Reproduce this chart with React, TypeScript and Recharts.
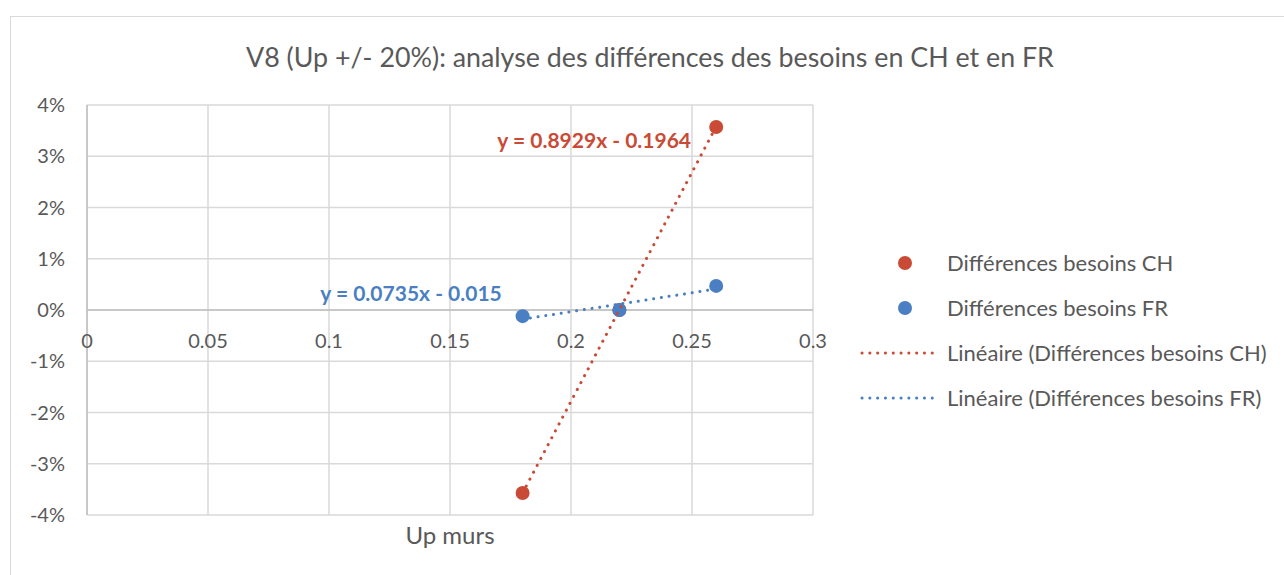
import React from "react";
import {
  ScatterChart,
  Scatter,
  XAxis,
  YAxis,
  CartesianGrid,
  ReferenceLine,
  ReferenceDot,
  Label,
} from "recharts";

const chartTitle = "V8 (Up +/- 20%): analyse des différences des besoins en CH et en FR";
const xAxisTitle = "Up murs";

const upValues = [0.18, 0.22, 0.26];
const chDiff = [-0.0357, 0.0, 0.0357];
const frDiff = [-0.0012, 0.0, 0.0047];

const trendX = [0.18, 0.26];
const chTrend = [-0.0357, 0.0358];
const frTrend = [-0.0018, 0.0041];

const xTicks = [0, 0.05, 0.1, 0.15, 0.2, 0.25, 0.3];
const xTickLabels = ["0", "0.05", "0.1", "0.15", "0.2", "0.25", "0.3"];
const yTicks = [-0.04, -0.03, -0.02, -0.01, 0, 0.01, 0.02, 0.03, 0.04];

const chEquation = "y = 0.8929x - 0.1964";
const frEquation = "y = 0.0735x - 0.015";
const chEqPos = { x: 0.2496, y: 0.033 };
const frEqPos = { x: 0.1339, y: 0.0033 };

const legendNames = [
  "Différences besoins CH",
  "Différences besoins FR",
  "Linéaire (Différences besoins CH)",
  "Linéaire (Différences besoins FR)",
];

const RED = "#C94B36";
const BLUE = "#4A7FC3";
const TEXT = "#595959";
const GRID = "#D9D9D9";
const FONT = "Lato, 'Open Sans', sans-serif";
const DOTTED = "0.1 7.7";

const chData = upValues.map((x, i) => ({ x, y: chDiff[i] }));
const frData = upValues.map((x, i) => ({ x, y: frDiff[i] }));
const chTrendData = trendX.map((x, i) => ({ x, y: chTrend[i] }));
const frTrendData = trendX.map((x, i) => ({ x, y: frTrend[i] }));

const XTick = (props: any) => {
  const { x, y, payload } = props;
  const idx = xTicks.indexOf(payload.value);
  return (
    <text
      x={x}
      y={y - 183}
      textAnchor="middle"
      dominantBaseline="central"
      fill={TEXT}
      fontSize={20}
      fontFamily={FONT}
    >
      {idx >= 0 ? xTickLabels[idx] : String(payload.value)}
    </text>
  );
};

const Dot = (color: string) => (props: any) => {
  const { cx, cy } = props;
  return <circle cx={cx} cy={cy} r={7} fill={color} />;
};

const NoShape = () => null;

const LegendBlock = () => {
  const colors = [RED, BLUE, RED, BLUE];
  return (
    <div
      style={{
        position: "absolute",
        left: 858,
        top: 240,
        width: 426,
        fontFamily: FONT,
      }}
    >
      {legendNames.map((name, i) => (
        <div
          key={name}
          style={{ height: 45, display: "flex", alignItems: "center" }}
        >
          <svg width={89} height={20} style={{ display: "block", flex: "none" }}>
            {i < 2 ? (
              <circle cx={47} cy={10} r={7} fill={colors[i]} />
            ) : (
              <line
                x1={4}
                y1={10}
                x2={80}
                y2={10}
                stroke={colors[i]}
                strokeWidth={3}
                strokeDasharray={DOTTED}
                strokeLinecap="round"
              />
            )}
          </svg>
          <span style={{ fontSize: 22, color: TEXT, whiteSpace: "nowrap" }}>
            {name}
          </span>
        </div>
      ))}
    </div>
  );
};

export default function App() {
  return (
    <div
      style={{
        position: "fixed",
        left: 0,
        top: 0,
        width: 1284,
        height: 575,
        overflow: "hidden",
        background: "#fff",
      }}
    >
      <div
        style={{
          position: "absolute",
          left: 10,
          top: 16,
          width: 1300,
          height: 600,
          border: `1px solid ${GRID}`,
        }}
      />
      <div
        style={{
          position: "absolute",
          left: 0,
          top: 57,
          width: 1300,
          textAlign: "center",
          fontFamily: FONT,
          fontSize: 26.8,
          color: TEXT,
          transform: "translateY(-50%)",
        }}
      >
        {chartTitle}
      </div>
      <div style={{ position: "absolute", left: 0, top: 0 }}>
        <ScatterChart
          width={1284}
          height={575}
          margin={{ top: 105, right: 471, bottom: 0, left: 0 }}
        >
          <CartesianGrid stroke={GRID} strokeWidth={1.5} />
          <XAxis
            type="number"
            dataKey="x"
            domain={[0, 0.3]}
            ticks={xTicks}
            axisLine={false}
            tickLine={false}
            tick={<XTick />}
            height={60}
            interval={0}
          >
            <Label
              value={xAxisTitle}
              position="insideTop"
              offset={12}
              fill={TEXT}
              fontSize={24}
              fontFamily={FONT}
            />
          </XAxis>
          <YAxis
            type="number"
            dataKey="y"
            domain={[-0.04, 0.04]}
            ticks={yTicks}
            width={87}
            tickLine={false}
            axisLine={{ stroke: "#BFBFBF", strokeWidth: 1.5 }}
            tickMargin={16}
            tickFormatter={(v: number) => `${Math.round(v * 100)}%`}
            tick={{ fill: TEXT, fontSize: 20, fontFamily: FONT }}
            interval={0}
          />
          <ReferenceLine y={0} stroke="#BFBFBF" strokeWidth={1.5} />
          <Scatter
            name={legendNames[0]}
            data={chData}
            fill={RED}
            shape={Dot(RED)}
            isAnimationActive={false}
          />
          <Scatter
            name={legendNames[1]}
            data={frData}
            fill={BLUE}
            shape={Dot(BLUE)}
            isAnimationActive={false}
          />
          <Scatter
            name={legendNames[2]}
            data={chTrendData}
            fill={RED}
            line={{
              stroke: RED,
              strokeWidth: 3,
              strokeDasharray: DOTTED,
              strokeLinecap: "round",
            }}
            lineType="joint"
            shape={NoShape}
            isAnimationActive={false}
          />
          <Scatter
            name={legendNames[3]}
            data={frTrendData}
            fill={BLUE}
            line={{
              stroke: BLUE,
              strokeWidth: 3,
              strokeDasharray: DOTTED,
              strokeLinecap: "round",
            }}
            lineType="joint"
            shape={NoShape}
            isAnimationActive={false}
          />
          <ReferenceDot
            x={chEqPos.x}
            y={chEqPos.y}
            r={0}
            ifOverflow="visible"
            label={{
              value: chEquation,
              position: "left",
              offset: 0,
              fill: RED,
              fontSize: 21,
              fontWeight: 700,
              fontFamily: FONT,
            }}
          />
          <ReferenceDot
            x={frEqPos.x}
            y={frEqPos.y}
            r={0}
            ifOverflow="visible"
            label={{
              value: frEquation,
              position: "center",
              fill: BLUE,
              fontSize: 21,
              fontWeight: 700,
              fontFamily: FONT,
            }}
          />
        </ScatterChart>
      </div>
      <LegendBlock />
    </div>
  );
}
